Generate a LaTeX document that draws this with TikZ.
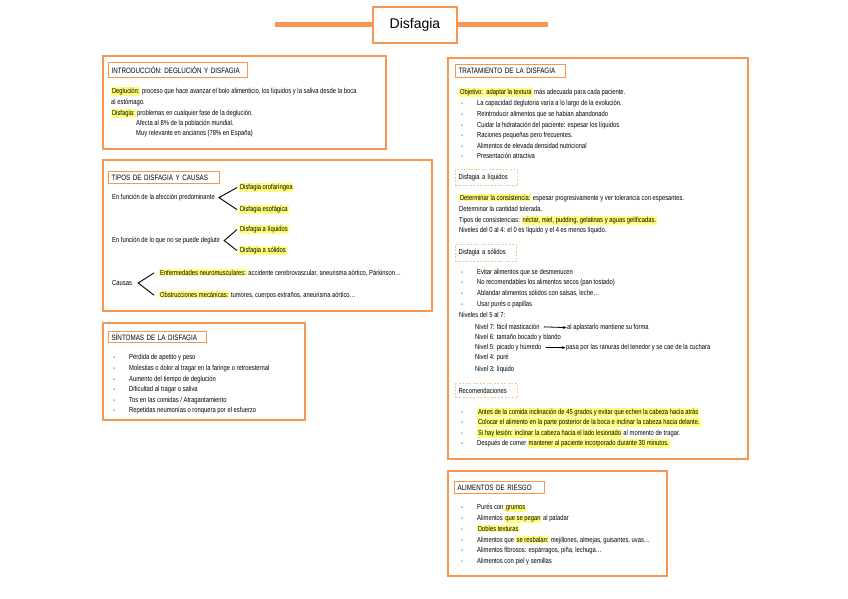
\documentclass[tikz,border=0pt]{standalone}
\usepackage{fontspec}
\setmainfont{Liberation Sans}[FakeStretch=0.8]
\newfontfamily\titlefont{Liberation Sans}
\usetikzlibrary{arrows.meta}
\definecolor{org}{RGB}{247,150,80}
\definecolor{orgl}{RGB}{250,198,150}
\definecolor{hly}{RGB}{255,255,125}
\newcommand\hl[1]{{\setlength{\fboxsep}{0.8pt}\colorbox{hly}{#1}}}
\newcommand\bul{\makebox[16pt][l]{-}}
\begin{document}
\begin{tikzpicture}[x=1pt,y=-1pt,
  txt/.style={anchor=base west,inner sep=0pt,font=\fontsize{7.3}{8}\selectfont},
  mainbox/.style={draw=org,line width=2.5pt},
  headbox/.style={draw=org,line width=1.2pt,anchor=north west,inner xsep=3pt,inner ysep=0pt,align=left,font=\fontsize{7.8}{8}\selectfont},
  subbox/.style={draw=orgl,line width=1pt,dash pattern=on 2pt off 1.5pt,anchor=north west,inner xsep=3pt,inner ysep=0pt,align=left,font=\fontsize{7.3}{8}\selectfont},
  branch/.style={draw=black,line width=0.9pt},
  arr/.style={draw=black,line width=0.8pt,-{Stealth[length=3.5pt,width=3pt]}}
]
\fill[white] (0,0) rectangle (848,599);
\useasboundingbox (0,0) rectangle (848,599);

% title
\coordinate (tl) at (275,25);
\coordinate (tr) at (548,25);
\node[draw=org,line width=2.2pt,fill=white,minimum width=84pt,minimum height=36pt,inner sep=0pt,font=\titlefont\fontsize{14}{16}\selectfont] (title) at (415,25) {Disfagia};
\draw[org,line width=5pt] (tl) -- (title.west);
\draw[org,line width=5pt] (title.east) -- (tr);

% ---------- Intro ----------
\draw[mainbox] (103,56) rectangle (386,149);
\node[headbox,text width=133pt,minimum height=15pt] (hIntro) at (108,62) {INTRODUCCIÓN: DEGLUCIÓN Y DISFAGIA};
\node[txt] (i1) at (111,93.5) {\hl{Deglución:} proceso que hace avanzar el bolo alimenticio, los líquidos y la saliva desde la boca};
\node[txt] (i2) at (111,104.5) {al estómago.};
\node[txt] (i3) at (111,115.5) {\hl{Disfagia:} problemas en cualquier fase de la deglución.};
\node[txt] (i4) at (136,125.5) {Afecta al 8\% de la población mundial.};
\node[txt] (i5) at (136,135.5) {Muy relevante en ancianos (78\% en España)};

% ---------- Tipos ----------
\draw[mainbox] (103,160) rectangle (432,311);
\node[headbox,text width=105pt,minimum height=12pt] (hTipos) at (108,171) {TIPOS DE DISFAGIA Y CAUSAS};
\node[txt] (f1) at (112,199.5) {En función de la afección predominante};
\node[txt] (o1) at (239,189.5) {\hl{Disfagia orofaríngea}};
\node[txt] (o2) at (239,211.5) {\hl{Disfagia esofágica}};
\node[txt] (f2) at (112,242.5) {En función de lo que no se puede deglutir};
\node[txt] (o3) at (239,231.5) {\hl{Disfagia a líquidos}};
\node[txt] (o4) at (239,252.5) {\hl{Disfagia a sólidos}};
\node[txt] (f3) at (112,285.5) {Causas};
\node[txt] (c1) at (159,275.5) {\hl{Enfermedades neuromusculares:} accidente cerebrovascular, aneurisma aórtico, Párkinson…};
\node[txt] (c2) at (159,297.5) {\hl{Obstrucciones mecánicas:} tumores, cuerpos extraños, aneurisma aórtico…};
\draw[branch] ([xshift=-2pt]o1.west) -- ([xshift=4pt]f1.east) -- ([xshift=-2pt]o2.west);
\draw[branch] ([xshift=-2pt]o3.west) -- ([xshift=4pt]f2.east) -- ([xshift=-2pt]o4.west);
\draw[branch] ([xshift=-5pt]c1.west) -- ([xshift=6pt]f3.east) -- ([xshift=-5pt]c2.west);

% ---------- Sintomas ----------
\draw[mainbox] (103,323) rectangle (305,420);
\node[headbox,text width=92pt,minimum height=11pt] (hSint) at (108,331) {SÍNTOMAS DE LA DISFAGIA};
\node[txt] (s1) at (113,359.5) {\bul Pérdida de apetito y peso};
\node[txt] (s2) at (113,370.5) {\bul Molestias o dolor al tragar en la faringe o retroesternal};
\node[txt] (s3) at (113,381.5) {\bul Aumento del tiempo de deglución};
\node[txt] (s4) at (113,391.5) {\bul Dificultad al tragar o saliva};
\node[txt] (s5) at (113,402.5) {\bul Tos en las comidas / Atragantamiento};
\node[txt] (s6) at (113,412.5) {\bul Repetidas neumonías o ronquera por el esfuerzo};

% ---------- Tratamiento ----------
\draw[mainbox] (448,58) rectangle (748,459);
\node[headbox,text width=104pt,minimum height=13pt] (hTrat) at (455,64) {TRATAMIENTO DE LA DISFAGIA};
\node[txt] (t0) at (459,94.5) {\hl{Objetivo:} \hl{adaptar la textura} más adecuada para cada paciente.};
\node[txt] (t1) at (461,105.5) {\bul La capacidad deglutoria varía a lo largo de la evolución.};
\node[txt] (t2) at (461,116.5) {\bul Reintroducir alimentos que se habían abandonado};
\node[txt] (t3) at (461,127.5) {\bul Cuidar la hidratación del paciente: espesar los líquidos};
\node[txt] (t4) at (461,137.5) {\bul Raciones pequeñas pero frecuentes.};
\node[txt] (t5) at (461,148.5) {\bul Alimentos de elevada densidad nutricional};
\node[txt] (t6) at (461,158.5) {\bul Presentación atractiva};

\node[subbox,text width=56pt,minimum height=16pt] (hLiq) at (455,169) {Disfagia a líquidos};
\node[txt] (l1) at (459,200.5) {\hl{Determinar la consistencia:} espesar progresivamente y ver tolerancia con espesantes.};
\node[txt] (l2) at (459,211.5) {Determinar la cantidad tolerada.};
\node[txt] (l3) at (459,222.5) {Tipos de consistencias: \hl{néctar, miel, pudding, gelatinas y aguas gelificadas.}};
\node[txt] (l4) at (459,232.5) {Niveles del 0 al 4: el 0 es líquido y el 4 es menos líquido.};

\node[subbox,text width=55pt,minimum height=17pt] (hSol) at (455,244) {Disfagia a sólidos};
\node[txt] (d1) at (461,274.5) {\bul Evitar alimentos que se desmenucen};
\node[txt] (d2) at (461,284.5) {\bul No recomendables los alimentos secos (pan tostado)};
\node[txt] (d3) at (461,295.5) {\bul Ablandar alimentos sólidos con salsas, leche…};
\node[txt] (d4) at (461,306.5) {\bul Usar purés o papillas};
\node[txt] (nv) at (459,317.5) {Niveles del 5 al 7:};
\node[txt] (n7) at (475,329.5) {Nivel 7: fácil masticación};
\node[txt] (n7b) at (567,329.5) {al aplastarlo mantiene su forma};
\node[txt] (n6) at (475,339.5) {Nivel 6: tamaño bocado y blando};
\node[txt] (n5) at (475,349.5) {Nivel 5: picado y húmedo};
\node[txt] (n5b) at (566,349.5) {pasa por las ranuras del tenedor y se cae de la cuchara};
\node[txt] (n4) at (475,359.5) {Nivel 4: puré};
\node[txt] (n3) at (475,371.5) {Nivel 3: líquido};
\draw[arr] ([xshift=4pt]n7.east) -- ([xshift=-0.5pt]n7b.west);
\draw[arr] ([xshift=4pt]n5.east) -- ([xshift=-0.5pt]n5b.west);

\node[subbox,text width=56pt,minimum height=14pt] (hRec) at (455,383) {Recomendaciones};
\node[txt] (r1) at (461,414.5) {\bul \hl{Antes de la comida inclinación de 45 grados y evitar que echen la cabeza hacia atrás}};
\node[txt] (r2) at (461,424.5) {\bul \hl{Colocar el alimento en la parte posterior de la boca e inclinar la cabeza hacia delante.}};
\node[txt] (r3) at (461,435.5) {\bul \hl{Si hay lesión: inclinar la cabeza hacia el lado lesionado} al momento de tragar.};
\node[txt] (r4) at (461,445.5) {\bul Después de comer \hl{mantener al paciente incorporado durante 30 minutos.}};

% ---------- Alimentos ----------
\draw[mainbox] (448,471) rectangle (667,576);
\node[headbox,text width=84pt,minimum height=12pt] (hAlim) at (454,481) {ALIMENTOS DE RIESGO};
\node[txt] (a1) at (461,509.5) {\bul Purés con \hl{grumos}};
\node[txt] (a2) at (461,520.5) {\bul Alimentos \hl{que se pegan} al paladar};
\node[txt] (a3) at (461,531.5) {\bul \hl{Dobles texturas}};
\node[txt] (a4) at (461,542.5) {\bul Alimentos que \hl{se resbalan:} mejillones, almejas, guisantes, uvas…};
\node[txt] (a5) at (461,552.5) {\bul Alimentos fibrosos: espárragos, piña, lechuga…};
\node[txt] (a6) at (461,563.5) {\bul Alimentos con piel y semillas};
\end{tikzpicture}
\end{document}
